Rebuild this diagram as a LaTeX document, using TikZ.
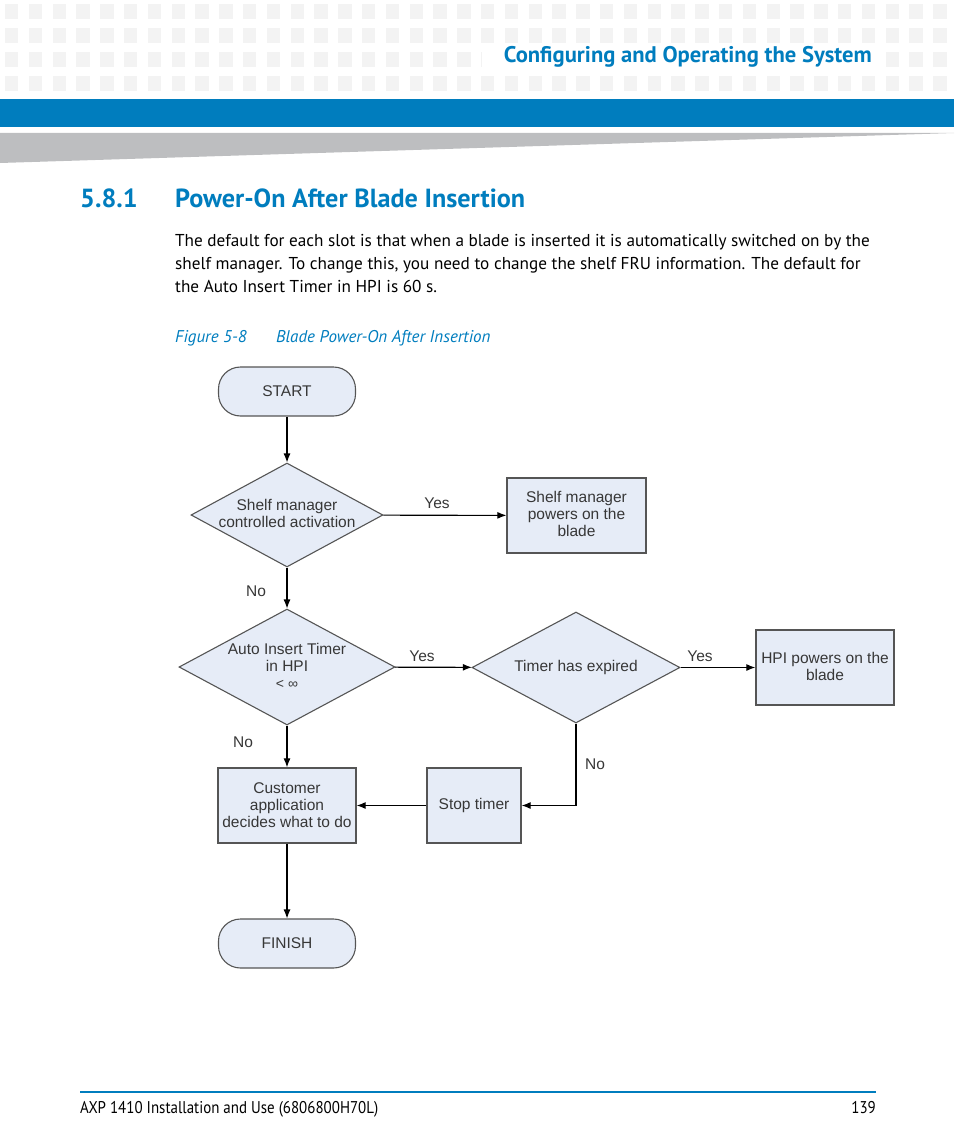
\documentclass[tikz,border=0pt]{standalone}
\usepackage{fontspec}
\setmainfont{PT Sans}
\newfontfamily\condfont[FakeStretch=0.88]{PT Sans}
\newfontfamily\chartfont{Liberation Sans}
\usetikzlibrary{shapes.geometric}
\usetikzlibrary{arrows.meta}
\definecolor{emblue}{RGB}{0,125,190}
\definecolor{boxfill}{RGB}{230,236,247}
\definecolor{boxline}{RGB}{85,85,85}
\definecolor{chartink}{RGB}{55,55,55}
\definecolor{wedgegray}{RGB}{189,190,192}
\definecolor{tilegray}{RGB}{243,243,243}

\begin{document}
\begin{tikzpicture}[x=1pt, y=-1pt, >={Latex[length=9pt,width=7pt]},
  decision/.style={diamond, draw=boxline, fill=boxfill, line width=1.1pt, inner sep=0pt},
  process/.style={rectangle, draw=boxline, fill=boxfill, line width=1.3pt, minimum height=75pt, inner sep=0pt},
  terminal/.style={rectangle, rounded corners=22pt, draw=boxline, fill=boxfill, line width=1.1pt, minimum width=137pt, minimum height=49pt, inner sep=0pt},
  chart/.style={font=\chartfont\fontsize{15.5}{17}\selectfont, text=chartink, align=center, inner sep=0pt},
  flow/.style={->, line width=1.1pt, draw=black}]
\useasboundingbox (0,0) rectangle (954,1145);
% page head
\foreach \i in {0,...,39}
  \foreach \j in {0,...,3}
    \fill[tilegray] (5+\i*23.8,4+\j*24) rectangle ++(13.4,15);
\fill[white] (482,49) rectangle (884,71);
\node[anchor=base east, font=\bfseries\fontsize{22.6}{26}\selectfont, text=emblue, inner sep=0pt] (head) at (872,63) {Configuring and Operating the System};
\fill[emblue] (0,99) rectangle (954,127);
\fill[wedgegray] (0,133) -- (954,133) -- (0,163) -- cycle;
% section text
\begin{scope}[text=emblue, inner sep=0pt, anchor=base west]
\node[font=\bfseries\fontsize{26.2}{30}\selectfont] (secnum) at (80,207) {5.8.1};
\node[font=\bfseries\fontsize{26.2}{30}\selectfont] (sectitle) at (175,207) {Power-On After Blade Insertion};
\node[font=\itshape\fontsize{17}{20}\selectfont] (fignum) at (175,342) {Figure 5-8};
\node[font=\itshape\fontsize{17}{20}\selectfont] (figtitle) at (276,342) {Blade Power-On After Insertion};
\end{scope}
\node[anchor=base west, align=left, inner sep=0pt, font=\fontsize{17.2}{23}\selectfont] (body) at (175,292) {The default for each slot is that when a blade is inserted it is automatically switched on by the\\
shelf manager. To change this, you need to change the shelf FRU information. The default for\\
the Auto Insert Timer in HPI is 60 s.};
% flowchart
\node[terminal] (start) at (287,391.5) {};
\node[decision, minimum width=192pt, minimum height=104pt] (d1) at (287,515) {};
\node[process, minimum width=139pt] (smgr) at (576.5,515.5) {};
\node[decision, minimum width=216pt, minimum height=116pt] (d2) at (287,667) {};
\node[decision, minimum width=208pt, minimum height=111pt] (d3) at (576,667.5) {};
\node[process, minimum width=138pt] (hpi) at (825,667.5) {};
\node[process, minimum width=94pt] (stop) at (474,805.5) {};
\node[process, minimum width=138pt] (cust) at (287,805.5) {};
\node[terminal] (finish) at (287,943.5) {};
\begin{scope}[chart]
\node (tstart) at (start) {START};
\node (td1) at (287,513.5) {Shelf manager\\controlled activation};
\node (tsmgr) at (576.5,514) {Shelf manager\\powers on the\\blade};
\node (td2) at (287,657.5) {Auto Insert Timer\\in HPI};
\node[font=\chartfont\fontsize{14}{15}\selectfont] (tinf) at (287,684) {< ∞};
\node (td3) at (576,667) {Timer has expired};
\node (thpi) at (825,666.5) {HPI powers on the\\blade};
\node (tstop) at (474,805) {Stop timer};
\node (tcust) at (287,805) {Customer\\application\\decides what to do};
\node (tfinish) at (finish) {FINISH};
\node (yes1) at (437,503) {Yes};
\node (yes2) at (422,656) {Yes};
\node (yes3) at (700,656) {Yes};
\node (no1) at (256,591) {No};
\node (no2) at (243,742) {No};
\node (no3) at (595,764) {No};
\end{scope}
\draw[flow] (start) edge (d1);
\draw[flow] (d1) edge (smgr);
\draw[flow] (d1) edge (d2);
\draw[flow] (d2) edge (d3);
\draw[flow] (d3) edge (hpi);
\draw[flow] (d2) edge (cust);
\draw[flow] (d3) |- (stop);
\draw[flow] (stop) edge (cust);
\draw[flow] (cust) edge (finish);
% page foot
\draw[emblue, line width=2pt] (80,1092) -- (876,1092);
\node[anchor=base west, inner sep=0pt, font=\condfont\fontsize{17}{20}\selectfont] (foot) at (80,1113) {AXP 1410 Installation and Use (6806800H70L)};
\node[anchor=base east, inner sep=0pt, font=\condfont\fontsize{17}{20}\selectfont] (page) at (876,1113) {139};
\end{tikzpicture}
\end{document}
